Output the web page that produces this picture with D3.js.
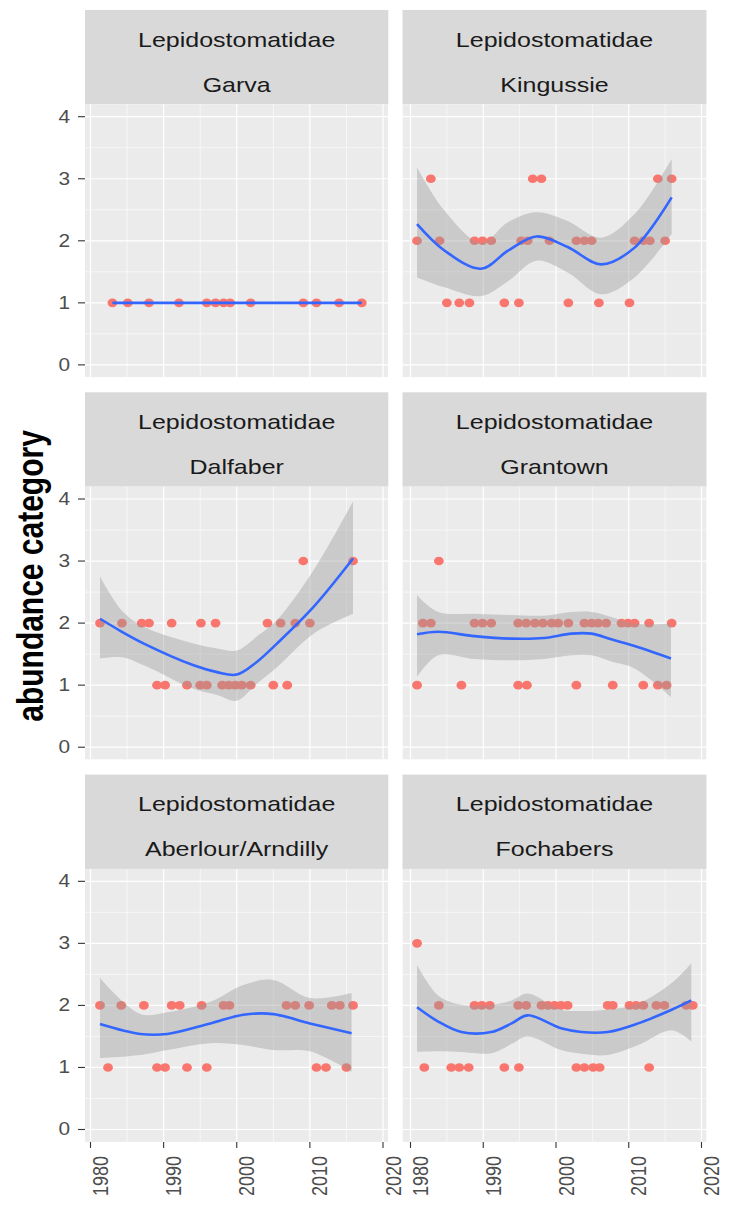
<!DOCTYPE html>
<html>
<head>
<meta charset="utf-8">
<script src="https://d3js.org/d3.v7.min.js"></script>
<style>
  body { margin: 0; background: #fff; }
  text { font-family: "Liberation Sans", Arial, sans-serif; }
</style>
</head>
<body>
<div id="chart"></div>
<script>
// facet labels, row by row
var family = "Lepidostomatidae";
var sites = ["Garva", "Kingussie", "Dalfaber", "Grantown", "Aberlour/Arndilly", "Fochabers"];
var xTicks = [1980, 1990, 2000, 2010, 2020];
var xMinor = [1985, 1995, 2005, 2015];
var yTicks = [0, 1, 2, 3, 4];
var yMinor = [0.5, 1.5, 2.5, 3.5];

// observations: [year, abundance category]
var garvaPts = [[1983.0,1],[1985.1,1],[1988.0,1],[1992.1,1],[1995.9,1],[1997.1,1],[1998.2,1],[1999.1,1],
  [2001.9,1],[2009.1,1],[2010.9,1],[2014.0,1],[2017.1,1]];
var kingussiePts = [[1982.8,3],[1996.8,3],[1998.0,3],[2014.0,3],[2015.9,3],
  [1980.9,2],[1984.0,2],[1988.8,2],[1989.9,2],[1991.1,2],[1995.2,2],[1996.1,2],[1999.1,2],[2002.8,2],
  [2003.9,2],[2004.9,2],[2010.8,2],[2012.0,2],[2012.9,2],[2015.0,2],
  [1985.0,1],[1986.7,1],[1988.1,1],[1992.9,1],[1994.9,1],[2001.7,1],[2005.9,1],[2010.1,1]];
var dalfaberPts = [[2009.1,3],[2015.9,3],
  [1981.3,2],[1984.3,2],[1987.0,2],[1988.0,2],[1991.1,2],[1995.1,2],[1997.1,2],[2004.2,2],[2006.0,2],
  [2008.0,2],[2010.0,2],
  [1989.1,1],[1990.2,1],[1993.2,1],[1995.0,1],[1995.9,1],[1998.0,1],[1998.9,1],[1999.8,1],[2000.7,1],
  [2001.9,1],[2005.0,1],[2006.9,1]];
var grantownPts = [[1983.9,3],
  [1981.7,2],[1982.8,2],[1988.8,2],[1989.9,2],[1991.1,2],[1994.8,2],[1995.9,2],[1997.1,2],[1998.2,2],
  [1999.4,2],[2000.3,2],[2001.7,2],[2003.9,2],[2004.9,2],[2005.8,2],[2006.9,2],[2009.0,2],[2009.9,2],
  [2010.8,2],[2012.8,2],[2015.9,2],
  [1980.9,1],[1987.0,1],[1994.8,1],[1996.0,1],[2002.8,1],[2007.8,1],[2012.0,1],[2014.0,1],[2015.2,1]];
var aberlourPts = [[1981.3,2],[1984.2,2],[1987.3,2],[1991.1,2],[1992.2,2],[1995.2,2],[1998.2,2],[1999.0,2],
  [2006.8,2],[2008.0,2],[2009.9,2],[2013.0,2],[2014.1,2],[2015.9,2],
  [1982.4,1],[1989.1,1],[1990.2,1],[1993.2,1],[1995.9,1],[2010.9,1],[2012.2,1],[2015.0,1]];
var fochabersPts = [[1980.9,3],
  [1983.9,2],[1988.8,2],[1989.8,2],[1990.9,2],[1994.8,2],[1995.9,2],[1998.0,2],[1998.9,2],[1999.8,2],
  [2000.7,2],[2001.6,2],[2007.1,2],[2007.8,2],[2010.1,2],[2011.0,2],[2012.0,2],[2013.8,2],[2014.9,2],
  [2017.9,2],[2018.8,2],
  [1981.9,1],[1985.6,1],[1986.7,1],[1988.0,1],[1992.9,1],[1994.9,1],[2002.8,1],[2003.9,1],[2005.1,1],
  [2006.0,1],[2012.8,1]];

// smoother: [year, fit, lower, upper]
var garvaFit = [[1983.0,1,1,1],[2017.1,1,1,1]];
var kingussieFit = [[1980.9,2.27,1.41,3.18],[1984.7,1.84,1.25,2.48],[1989.7,1.55,1.11,1.97],[1993.4,1.84,1.35,2.30],
  [1997.3,2.07,1.68,2.46],[2001.6,1.90,1.49,2.32],[2006.2,1.62,1.14,2.05],[2010.8,1.89,1.41,2.43],[2015.9,2.70,2.11,3.32]];
var dalfaberFit = [[1981.3,2.07,1.43,2.75],[1984.3,1.86,1.45,2.20],[1987.3,1.67,1.32,1.94],[1994.1,1.32,0.94,1.67],
  [1997.3,1.21,0.84,1.59],[2000.0,1.17,0.75,1.56],[2002.7,1.37,1.02,1.78],[2005.5,1.67,1.29,2.05],
  [2010.5,2.26,1.83,2.85],[2015.9,3.04,2.15,3.96]];
var grantownFit = [[1980.9,1.82,1.13,2.45],[1983.8,1.86,1.48,2.18],[1988.8,1.79,1.42,2.15],[1993.8,1.75,1.40,2.13],
  [1998.4,1.76,1.42,2.12],[2002.1,1.83,1.48,2.18],[2004.9,1.83,1.48,2.18],[2007.6,1.74,1.38,2.10],
  [2010.8,1.63,1.27,1.99],[2015.8,1.43,0.81,1.99]];
var aberlourFit = [[1981.3,1.70,1.15,2.44],[1986.8,1.54,1.20,1.86],[1990.5,1.54,1.28,1.89],[1996.4,1.71,1.39,2.06],
  [2000.9,1.85,1.36,2.33],[2005.0,1.86,1.28,2.41],[2010.0,1.71,1.26,2.12],[2015.7,1.55,0.93,2.20]];
var fochabersFit = [[1980.9,1.97,1.25,2.65],[1983.8,1.74,1.26,2.16],[1987.0,1.57,1.25,2.01],[1991.1,1.57,1.23,2.01],
  [1993.9,1.71,1.38,2.08],[1996.1,1.84,1.50,2.19],[2000.7,1.63,1.28,1.93],[2003.5,1.57,1.22,1.91],
  [2007.1,1.57,1.20,1.93],[2011.3,1.71,1.36,2.03],[2015.9,1.93,1.60,2.36],[2018.6,2.08,1.42,2.68]];

var points = [garvaPts, kingussiePts, dalfaberPts, grantownPts, aberlourPts, fochabersPts];
var fits = [garvaFit, kingussieFit, dalfaberFit, grantownFit, aberlourFit, fochabersFit];

var W = 732, H = 1209;
var sx = 1.19; // picture is stretched sideways
var cols = [{x0: 85, x1: 388.3, t0: 90.5, t1: 383}, {x0: 402.5, x1: 706.5, t0: 410.5, t1: 701.5}];
var rowTop = [10, 392.3, 774.6];
var stripH = 94.3, panelH = 273;

var svg = d3.select("#chart").append("svg")
  .attr("width", W).attr("height", H)
  .style("background", "#fff");

var defs = svg.append("defs");

sites.forEach(function(site, i) {
  var c = cols[i % 2], r = Math.floor(i / 2);
  var top = rowTop[r] + stripH;
  var x = d3.scaleLinear().domain([1980, 2020]).range([c.t0, c.t1]);
  var y = d3.scaleLinear().domain([-0.2, 4.2]).range([top + panelH, top]);

  // strip
  var strip = svg.append("g");
  strip.append("rect").attr("x", c.x0).attr("y", rowTop[r])
    .attr("width", c.x1 - c.x0).attr("height", stripH).attr("fill", "#d9d9d9");
  [family, site].forEach(function(t, k) {
    strip.append("text")
      .attr("transform", "translate(" + ((c.x0 + c.x1) / 2) + "," + (rowTop[r] + (k ? 81.5 : 36.7)) + ") scale(" + sx + ",1)")
      .attr("text-anchor", "middle").attr("font-size", 21).attr("fill", "#1a1a1a")
      .text(t);
  });

  // panel
  defs.append("clipPath").attr("id", "clip" + i).append("rect")
    .attr("x", c.x0).attr("y", top).attr("width", c.x1 - c.x0).attr("height", panelH);
  var g = svg.append("g").attr("clip-path", "url(#clip" + i + ")");
  g.append("rect").attr("x", c.x0).attr("y", top)
    .attr("width", c.x1 - c.x0).attr("height", panelH).attr("fill", "#ebebeb");

  g.selectAll(".ymin").data(yMinor).enter().append("line")
    .attr("x1", c.x0).attr("x2", c.x1).attr("y1", y).attr("y2", y)
    .attr("stroke", "#fff").attr("stroke-width", 0.6);
  g.selectAll(".xmin").data(xMinor).enter().append("line")
    .attr("x1", x).attr("x2", x).attr("y1", top).attr("y2", top + panelH)
    .attr("stroke", "#fff").attr("stroke-width", 0.6);
  g.selectAll(".ymaj").data(yTicks).enter().append("line")
    .attr("x1", c.x0).attr("x2", c.x1).attr("y1", y).attr("y2", y)
    .attr("stroke", "#fff").attr("stroke-width", 1.2);
  g.selectAll(".xmaj").data(xTicks).enter().append("line")
    .attr("x1", x).attr("x2", x).attr("y1", top).attr("y2", top + panelH)
    .attr("stroke", "#fff").attr("stroke-width", 1.2);

  // points
  g.selectAll(".pt").data(points[i]).enter().append("ellipse")
    .attr("cx", function(d) { return x(d[0]); })
    .attr("cy", function(d) { return y(d[1]); })
    .attr("rx", 4.9).attr("ry", 4.3)
    .attr("fill", "#f8766d");

  // smoother
  var band = d3.area()
    .x(function(d) { return x(d[0]); })
    .y0(function(d) { return y(d[2]); })
    .y1(function(d) { return y(d[3]); })
    .curve(d3.curveCatmullRom.alpha(0.5));
  var line = d3.line()
    .x(function(d) { return x(d[0]); })
    .y(function(d) { return y(d[1]); })
    .curve(d3.curveCatmullRom.alpha(0.5));
  g.append("path").datum(fits[i]).attr("d", band)
    .attr("fill", "#999").attr("fill-opacity", 0.4);
  g.append("path").datum(fits[i]).attr("d", line)
    .attr("fill", "none").attr("stroke", "#3366ff").attr("stroke-width", 2.6);

  // y axis on left column
  if (i % 2 === 0) {
    var ya = svg.append("g");
    ya.selectAll("line").data(yTicks).enter().append("line")
      .attr("x1", c.x0 - 7).attr("x2", c.x0).attr("y1", y).attr("y2", y)
      .attr("stroke", "#333").attr("stroke-width", 1.1);
    ya.selectAll("text").data(yTicks).enter().append("text")
      .attr("transform", function(d) { return "translate(" + (c.x0 - 15) + "," + y(d) + ") scale(" + sx + ",1)"; })
      .attr("text-anchor", "end").attr("dominant-baseline", "central")
      .attr("font-size", 17.5).attr("fill", "#4d4d4d")
      .text(function(d) { return d; });
  }

  // x axis on bottom row
  if (r === 2) {
    var xa = svg.append("g");
    var yb = top + panelH;
    xa.selectAll("line").data(xTicks).enter().append("line")
      .attr("x1", x).attr("x2", x).attr("y1", yb).attr("y2", yb + 6)
      .attr("stroke", "#333").attr("stroke-width", 1.1);
    xa.selectAll("text").data(xTicks).enter().append("text")
      .attr("transform", function(d) { return "translate(" + (x(d) + 10) + "," + (yb + 14) + ") scale(" + sx + ",1) rotate(-90)"; })
      .attr("text-anchor", "end").attr("dominant-baseline", "central")
      .attr("font-size", 18).attr("fill", "#4d4d4d")
      .text(function(d) { return d; });
  }
});

svg.append("text")
  .attr("transform", "translate(30," + ((rowTop[0] + rowTop[2] + stripH + panelH) / 2) + ") scale(1.25,1) rotate(-90)")
  .attr("text-anchor", "middle").attr("dominant-baseline", "central")
  .attr("font-size", 30).attr("font-weight", "bold").attr("fill", "#000")
  .text("abundance category");
</script>
</body>
</html>
